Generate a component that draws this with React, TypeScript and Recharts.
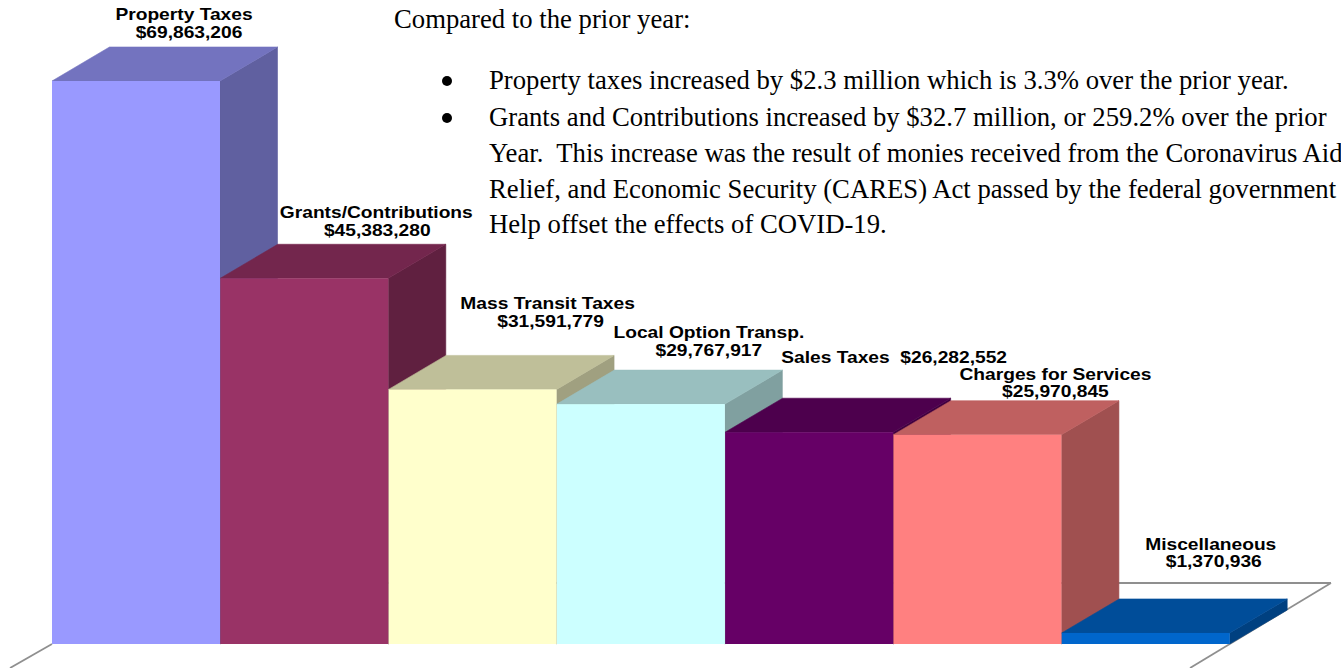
import React from 'react';
import { BarChart, Bar, XAxis, YAxis, LabelList, Customized } from 'recharts';

const categories = [
  'Property Taxes',
  'Grants/Contributions',
  'Mass Transit Taxes',
  'Local Option Transp.',
  'Sales Taxes',
  'Charges for Services',
  'Miscellaneous',
];
const revenues = [69863206, 45383280, 31591779, 29767917, 26282552, 25970845, 1370936];

const chartData = categories.map((name, i) => ({ name, value: revenues[i] }));

const faceColors = ['#9999ff', '#993366', '#ffffcc', '#ccffff', '#660066', '#ff8080', '#0066cc'];
const topColors = ['#7373bf', '#73264d', '#bfbf99', '#99bfbf', '#4d004d', '#bf6060', '#004d99'];
const sideColors = ['#6060a0', '#602040', '#a0a080', '#80a0a0', '#400040', '#a05050', '#004080'];

// label placement relative to the bar's top centre
const labelNudgeX = [48, 72, 75, 68, 85, 78, 65];
const labelNudgeY = [-61, -60, -80, -66, -69, -55, -83];
const valueNudgeX = [5, 1, 3, 0, 0, 0, 3];

const WIDTH = 1341;
const HEIGHT = 668;
const margin = { left: 52, right: 111, top: 81, bottom: 24 };
const DEPTH_X = 57.5;
const DEPTH_Y = 34;
const LABEL_STRETCH = 1.2;

const money = (v: number) => '$' + v.toLocaleString('en-US');

const Bar3D = (props: any) => {
  const { x, y, width, height, index } = props;
  const dx = DEPTH_X;
  const dy = DEPTH_Y;
  return (
    <g>
      <polygon
        points={`${x + width},${y} ${x + width + dx},${y - dy} ${x + width + dx},${y + height - dy} ${x + width},${y + height}`}
        fill={sideColors[index]}
        stroke={sideColors[index]}
        strokeWidth={0.6}
      />
      <polygon
        points={`${x},${y} ${x + dx},${y - dy} ${x + width + dx},${y - dy} ${x + width},${y}`}
        fill={topColors[index]}
        stroke={topColors[index]}
        strokeWidth={0.6}
      />
      <rect x={x} y={y} width={width} height={height} fill={faceColors[index]} />
    </g>
  );
};

const Floor = () => {
  const right = WIDTH - margin.right;
  const bottom = HEIGHT - margin.bottom;
  const backX = right + 101;
  const backY = bottom - 61;
  return (
    <g stroke="#8f8f8f" strokeWidth={1.8} fill="none">
      <line x1={margin.left + DEPTH_X} y1={backY} x2={backX} y2={backY} />
      <line x1={backX} y1={backY} x2={backX - 141} y2={HEIGHT} />
      <line x1={margin.left} y1={bottom} x2={margin.left - 42} y2={HEIGHT} />
    </g>
  );
};

const BarLabel = (props: any) => {
  const { x, y, width, index } = props;
  const cx = x + width / 2 + labelNudgeX[index];
  const ty = y + labelNudgeY[index];
  const style = { fontFamily: '"Liberation Sans", Arial, sans-serif', fontWeight: 700, fontSize: 16, fill: '#000' };
  const name = categories[index];
  const amount = money(revenues[index]);
  if (name === 'Sales Taxes') {
    return (
      <text
        transform={`translate(${cx},${ty}) scale(${LABEL_STRETCH},1)`}
        textAnchor="middle"
        style={{ ...style, whiteSpace: 'pre' }}
      >
        {name + '  ' + amount}
      </text>
    );
  }
  return (
    <g>
      <text transform={`translate(${cx},${ty}) scale(${LABEL_STRETCH},1)`} textAnchor="middle" style={style}>
        {name}
      </text>
      <text
        transform={`translate(${cx + valueNudgeX[index]},${ty + 17.5}) scale(${LABEL_STRETCH},1)`}
        textAnchor="middle"
        style={style}
      >
        {amount}
      </text>
    </g>
  );
};

const bodyLines = [
  { top: 80, text: 'Property taxes increased by $2.3 million which is 3.3% over the prior year.', bullet: true },
  { top: 117, text: 'Grants and Contributions increased by $32.7 million, or 259.2% over the prior', bullet: true },
  { top: 153, text: 'Year.  This increase was the result of monies received from the Coronavirus Aid' },
  { top: 189, text: 'Relief, and Economic Security (CARES) Act passed by the federal government' },
  { top: 224, text: 'Help offset the effects of COVID-19.' },
];

const lineStyle: React.CSSProperties = {
  position: 'absolute',
  whiteSpace: 'pre',
  fontFamily: '"Liberation Serif", "Times New Roman", serif',
  fontSize: 26.7,
  lineHeight: '30px',
  color: '#000',
};

export default function App() {
  return (
    <div style={{ position: 'absolute', left: 0, top: 0, width: WIDTH, height: HEIGHT, overflow: 'hidden', background: '#fff' }}>
      <BarChart width={WIDTH} height={HEIGHT} data={chartData} margin={margin} barCategoryGap={0}>
        <XAxis dataKey="name" hide />
        <YAxis hide domain={[0, revenues[0]]} />
        <Customized component={<Floor />} />
        <Bar dataKey="value" shape={<Bar3D />} isAnimationActive={false}>
          <LabelList dataKey="value" content={<BarLabel />} />
        </Bar>
      </BarChart>
      <div style={{ ...lineStyle, left: 394, top: 4 }}>Compared to the prior year:</div>
      {bodyLines.map((l) => (
        <React.Fragment key={l.top}>
          {l.bullet && (
            <div style={{ position: 'absolute', left: 442, top: l.top - 4, width: 10, height: 10, borderRadius: '50%', background: '#000' }} />
          )}
          <div style={{ ...lineStyle, left: 489, top: l.top - 15 }}>{l.text}</div>
        </React.Fragment>
      ))}
    </div>
  );
}
